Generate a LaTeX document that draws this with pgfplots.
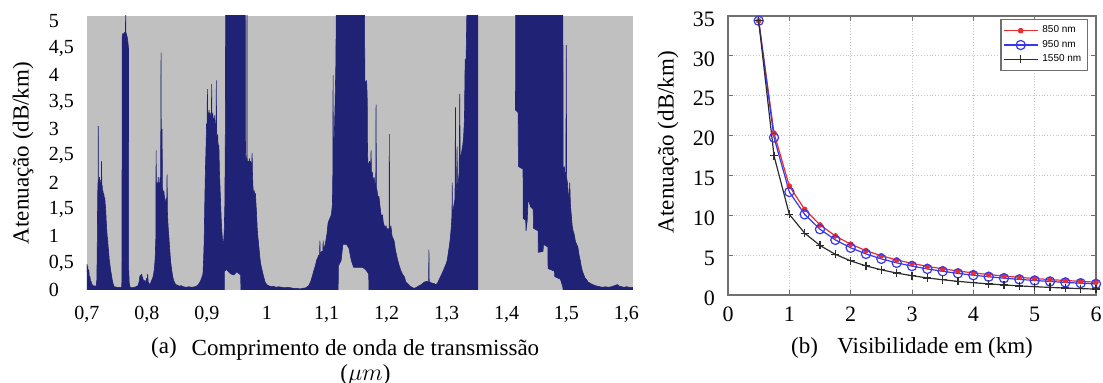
\documentclass[border=0pt]{standalone}
\usepackage{pgfplots}
\usepackage{pgfplotstable}
\pgfplotsset{compat=1.18}
\usepackage{fontspec}
\setmainfont{Liberation Serif}
\newfontfamily\legfont{Liberation Sans}
\definecolor{bg}{RGB}{192,192,192}
\definecolor{navyb}{RGB}{31,34,117}
\definecolor{frame}{RGB}{112,112,112}
\definecolor{c850}{RGB}{235,45,45}
\definecolor{c950}{RGB}{55,55,235}
\definecolor{c1550}{RGB}{45,45,45}

% attenuation spectrum, 0.70-1.35 um: upper envelope (left to right), then lower envelope (right to left)
\pgfplotstableread{
x y
0.7000 0.48
0.7006 0.30
0.7012 0.45
0.7020 0.32
0.7030 0.38
0.7040 0.22
0.7050 0.25
0.7060 0.14
0.7070 0.16
0.7080 0.09
0.7095 0.10
0.7110 0.06
0.7125 0.08
0.7140 0.05
0.7155 0.09
0.7165 0.20
0.7172 0.9
0.7177 1.6
0.7182 2.0
0.7186 1.8
0.7188 3.05
0.7191 1.9
0.7196 2.05
0.7202 1.9
0.7208 2.1
0.7214 1.95
0.7220 2.05
0.7226 1.9
0.7232 2.0
0.7238 1.85
0.7243 2.4
0.7247 1.9
0.7253 1.95
0.7260 1.8
0.7266 1.85
0.7272 1.75
0.7280 1.8
0.7288 1.7
0.7296 1.72
0.7304 1.6
0.7312 1.5
0.7320 1.3
0.7328 1.15
0.7336 1.0
0.7344 0.95
0.7353 0.8
0.7362 0.7
0.7372 0.55
0.7382 0.48
0.7392 0.38
0.7402 0.32
0.7412 0.25
0.7422 0.18
0.7432 0.13
0.7445 0.08
0.7460 0.05
0.7480 0.06
0.7500 0.04
0.7530 0.05
0.7560 0.04
0.7580 0.06
0.7584 0.5
0.7586 4.7
0.7600 4.78
0.7615 4.75
0.7630 4.8
0.7642 4.78
0.7645 5.3
0.7648 4.8
0.7660 4.75
0.7672 4.7
0.7684 4.6
0.7692 4.5
0.7695 0.4
0.7705 0.12
0.7720 0.05
0.7750 0.04
0.7790 0.05
0.7820 0.06
0.7850 0.08
0.7870 0.15
0.7880 0.24
0.7890 0.28
0.7900 0.22
0.7910 0.30
0.7920 0.25
0.7935 0.20
0.7950 0.15
0.7965 0.18
0.7980 0.12
0.7995 0.22
0.8005 0.18
0.8012 0.30
0.8020 0.15
0.8035 0.12
0.8050 0.10
0.8065 0.14
0.8080 0.18
0.8095 0.22
0.8110 0.28
0.8125 0.40
0.8138 0.60
0.8148 0.95
0.8153 2.6
0.8158 1.8
0.8165 1.9
0.8172 2.0
0.8180 1.85
0.8188 2.1
0.8196 1.9
0.8204 2.0
0.8212 1.95
0.8220 2.1
0.8228 1.9
0.8236 4.42
0.8240 2.0
0.8246 2.1
0.8253 3.0
0.8258 1.9
0.8266 1.85
0.8274 1.8
0.8282 1.85
0.8290 1.75
0.8298 1.7
0.8306 1.65
0.8314 1.6
0.8322 1.7
0.8330 1.6
0.8336 2.15
0.8342 1.45
0.8350 1.25
0.8358 1.1
0.8366 1.0
0.8374 0.85
0.8384 0.7
0.8394 0.55
0.8404 0.45
0.8416 0.35
0.8430 0.25
0.8445 0.18
0.8460 0.14
0.8480 0.10
0.8510 0.09
0.8540 0.07
0.8570 0.08
0.8610 0.06
0.8650 0.05
0.8700 0.06
0.8750 0.05
0.8800 0.06
0.8840 0.08
0.8870 0.12
0.8900 0.18
0.8920 0.25
0.8935 0.30
0.8945 0.55
0.8955 0.9
0.8965 1.6
0.8975 2.2
0.8985 2.6
0.8995 3.1
0.9003 3.0
0.9009 3.74
0.9013 3.2
0.9020 3.3
0.9028 3.1
0.9036 3.35
0.9044 3.2
0.9052 3.3
0.9060 3.1
0.9068 3.25
0.9076 3.3
0.9080 3.83
0.9084 3.2
0.9092 3.1
0.9100 3.3
0.9108 3.0
0.9116 3.2
0.9124 3.1
0.9132 3.25
0.9140 3.0
0.9148 3.1
0.9154 2.9
0.9158 3.9
0.9162 2.9
0.9170 2.8
0.9180 2.9
0.9190 2.6
0.9200 2.7
0.9210 2.2
0.9220 1.9
0.9230 1.6
0.9240 1.3
0.9250 1.1
0.9260 0.95
0.9270 0.85
0.9280 0.9
0.9290 1.1
0.9300 1.6
0.9306 2.5
0.9310 3.5
0.9313 5.3
0.9640 5.3
0.9644 2.6
0.9650 2.4
0.9658 2.45
0.9666 2.3
0.9670 5.3
0.9673 2.4
0.9680 2.35
0.9690 2.4
0.9700 2.3
0.9710 2.45
0.9720 2.3
0.9730 2.4
0.9740 2.35
0.9748 2.3
0.9755 2.55
0.9760 2.2
0.9770 1.9
0.9780 1.8
0.9790 1.85
0.9800 1.75
0.9810 1.8
0.9820 1.6
0.9830 1.4
0.9840 1.15
0.9850 1.0
0.9864 0.85
0.9880 0.65
0.9895 0.5
0.9910 0.42
0.9925 0.35
0.9947 0.25
0.9970 0.15
1.0000 0.10
1.0030 0.08
1.0070 0.06
1.0110 0.07
1.0150 0.05
1.0200 0.06
1.0250 0.05
1.0300 0.04
1.0350 0.05
1.0400 0.04
1.0450 0.03
1.0500 0.03
1.0550 0.02
1.0600 0.03
1.0650 0.04
1.0700 0.08
1.0730 0.15
1.0750 0.22
1.0770 0.30
1.0790 0.38
1.0810 0.45
1.0830 0.55
1.0850 0.60
1.0866 0.65
1.0880 0.62
1.0886 0.92
1.0892 0.65
1.0905 0.70
1.0920 0.72
1.0935 0.70
1.0940 0.92
1.0946 0.72
1.0960 0.80
1.0975 0.85
1.0990 0.95
1.1005 1.05
1.1023 1.25
1.1040 1.30
1.1060 1.35
1.1078 1.40
1.1095 1.60
1.1102 2.2
1.1106 4.0
1.1110 2.5
1.1125 2.8
1.1140 3.5
1.1152 4.2
1.1160 5.3
1.1630 5.3
1.1636 3.9
1.1650 3.85
1.1665 3.9
1.1675 3.6
1.1680 2.6
1.1686 2.4
1.1700 2.3
1.1715 2.4
1.1730 2.2
1.1740 2.6
1.1746 2.1
1.1760 2.2
1.1775 2.0
1.1790 2.1
1.1805 1.95
1.1818 2.0
1.1823 3.45
1.1828 1.9
1.1840 1.85
1.1855 1.7
1.1870 1.75
1.1885 1.6
1.1900 1.45
1.1915 1.35
1.1930 1.4
1.1945 1.25
1.1960 1.2
1.1975 1.15
1.1990 1.2
1.2005 1.1
1.2020 1.15
1.2040 1.1
1.2045 2.9
1.2050 1.05
1.2070 1.2
1.2090 1.0
1.2110 0.95
1.2127 0.9
1.2145 0.75
1.2165 0.65
1.2185 0.55
1.2210 0.45
1.2240 0.35
1.2270 0.28
1.2293 0.25
1.2320 0.15
1.2348 0.12
1.2380 0.08
1.2420 0.05
1.2459 0.03
1.2500 0.05
1.2540 0.08
1.2580 0.10
1.2620 0.14
1.2660 0.16
1.2700 0.15
1.2705 0.75
1.2710 0.15
1.2750 0.13
1.2790 0.12
1.2820 0.10
1.2844 0.12
1.2870 0.18
1.2900 0.25
1.2930 0.32
1.2960 0.40
1.2990 0.48
1.3010 0.55
1.3030 0.70
1.3050 0.85
1.3065 1.0
1.3080 1.2
1.3090 1.4
1.3093 2.0
1.3097 1.4
1.3110 1.5
1.3125 1.6
1.3140 1.7
1.3148 3.4
1.3152 1.8
1.3165 1.9
1.3175 2.67
1.3180 1.9
1.3195 2.0
1.3210 2.2
1.3220 3.65
1.3226 2.3
1.3240 2.5
1.3255 2.6
1.3270 2.7
1.3284 2.85
1.3298 3.2
1.3310 4.3
1.3320 4.0
1.3330 4.6
1.3340 5.3
1.3520 5.3
1.3523 0.0
1.1705 0
1.1700 0.30
1.1650 0.38
1.1600 0.42
1.1450 0.42
1.1410 0.55
1.1370 0.78
1.1330 0.85
1.1270 0.85
1.1240 0.55
1.1195 0.45
1.1190 0
0.9567 0
0.9565 0.28
0.9540 0.30
0.9500 0.34
0.9450 0.28
0.9400 0.30
0.9370 0.33
0.9330 0.38
0.9292 0.35
0.9290 0
0.7000 0
}\tabA

% attenuation spectrum, 1.41-1.61 um: upper envelope, then lower envelope back
\pgfplotstableread{
x y
1.4150 3.35
1.4152 5.3
1.4940 5.3
1.4945 2.3
1.4955 2.2
1.4965 2.3
1.4975 2.1
1.4990 2.2
1.4997 4.56
1.5002 2.1
1.5015 2.0
1.5030 1.8
1.5045 1.7
1.5055 2.0
1.5065 1.6
1.5080 1.4
1.5095 1.2
1.5110 1.1
1.5125 1.05
1.5135 1.0
1.5150 0.9
1.5170 0.85
1.5190 0.8
1.5210 0.65
1.5230 0.55
1.5245 0.45
1.5265 0.35
1.5290 0.28
1.5310 0.22
1.5330 0.20
1.5360 0.15
1.5400 0.12
1.5439 0.10
1.5480 0.08
1.5520 0.07
1.5560 0.06
1.5600 0.05
1.5650 0.06
1.5700 0.05
1.5750 0.06
1.5800 0.08
1.5850 0.10
1.5880 0.07
1.5920 0.06
1.5960 0.05
1.6000 0.06
1.6050 0.05
1.6110 0.05
1.6110 0
1.4945 0
1.4940 0.05
1.4900 0.2
1.4805 0.25
1.4800 0.35
1.4693 0.4
1.4690 0.8
1.4615 0.85
1.4610 0.72
1.4530 0.7
1.4528 1.1
1.4450 1.15
1.4445 1.5
1.4400 1.55
1.4360 1.7
1.4345 1.3
1.4325 1.1
1.4320 1.3
1.4278 1.33
1.4275 2.25
1.4197 2.3
1.4195 3.3
1.4150 3.35
}\tabB

\pgfplotstableread{
V a850 a950 a1550
0.50 34.4 34.4 34.4
0.75 20.31 19.75 17.47
1.00 13.66 12.92 10.11
1.25 10.74 10.11 7.76
1.50 8.79 8.25 6.21
1.75 7.41 6.91 5.10
2.00 6.37 5.92 4.28
2.25 5.57 5.15 3.65
2.50 4.92 4.53 3.16
2.75 4.40 4.03 2.75
3.00 3.96 3.62 2.42
3.25 3.59 3.27 2.14
3.50 3.28 2.97 1.91
3.75 3.01 2.71 1.71
4.00 2.77 2.48 1.54
4.25 2.56 2.29 1.39
4.50 2.38 2.11 1.26
4.75 2.21 1.96 1.14
5.00 2.07 1.82 1.04
5.25 1.93 1.70 0.95
5.50 1.82 1.58 0.87
5.75 1.71 1.48 0.80
6.00 1.61 1.39 0.74
}\tabV

\begin{document}
\begin{tikzpicture}
\begin{axis}[
  at={(43.5pt,46.5pt)}, anchor=south west,
  scale only axis, width=273pt, height=137pt,
  xmin=0.7, xmax=1.611, ymin=0, ymax=5.1,
  axis background/.style={fill=bg},
  axis line style={draw=none},
  major tick length=0pt,
  xtick={0.7,0.8,0.9,1,1.1,1.2,1.3,1.4,1.5,1.6},
  ytick={0,0.5,1,1.5,2,2.5,3,3.5,4,4.5,5},
  /pgf/number format/use comma,
  /pgf/number format/assume math mode=true,
  tick label style={font=\fontsize{10}{12}\selectfont},
  xticklabel style={yshift=-4.5pt},
  yticklabel style={text width=15.5pt, align=left},
  ylabel={Atenuação (dB/km)},
  ylabel style={at={(axis description cs:-0.117,0.5)}, anchor=center, font=\fontsize{11.5}{13}\selectfont},
  xlabel={Comprimento de onda de transmissão\\($\mu m$)},
  xlabel style={at={(axis description cs:0.51,0)}, anchor=north, yshift=-21pt, align=center, font=\fontsize{11.5}{12.5}\selectfont},
]
\addplot[draw=navyb, fill=navyb, line width=0.3pt, line join=bevel] table {\tabA};
\addplot[draw=navyb, fill=navyb, line width=0.3pt, line join=bevel] table {\tabB};
\end{axis}
\node[font=\fontsize{11.5}{13}\selectfont] at (82pt,17.5pt) {(a)};

\begin{axis}[
  at={(364pt,44pt)}, anchor=south west,
  scale only axis, width=184pt, height=139.5pt,
  xmin=0, xmax=6, ymin=0, ymax=35,
  xtick={0,1,2,3,4,5,6}, ytick={0,5,10,15,20,25,30,35},
  /pgf/number format/assume math mode=true,
  grid=major, grid style={densely dotted, gray!45, line width=0.4pt},
  axis line style={frame, line width=1pt},
  tick style={frame, line width=0.5pt}, tick align=inside, major tick length=2.5pt,
  tick label style={font=\fontsize{11}{13}\selectfont},
  xticklabel style={yshift=-2.5pt}, yticklabel style={xshift=-3pt, yshift=-1.5pt},
  ylabel={Atenuação (dB/km)},
  ylabel style={at={(axis description cs:-0.163,0.548)}, anchor=center, font=\fontsize{11.5}{13}\selectfont},
  xlabel={(b)\hspace{0.6em} Visibilidade em (km)},
  xlabel style={at={(axis description cs:0.5,0)}, anchor=center, yshift=-26.5pt, font=\fontsize{11.5}{13}\selectfont},
  legend style={at={(rel axis cs:0.978,0.989)}, anchor=north east,
    font=\legfont\fontsize{5}{5.5}\selectfont, draw=frame, line width=0.6pt,
    inner sep=1pt, row sep=-1.8pt},
  legend cell align=left,
]
\addplot[c850, line width=0.6pt, mark=*, mark size=1.1pt] table[x=V, y=a850] {\tabV};
\addlegendentry{850 nm}
\addplot[c950, line width=0.6pt, mark=o, mark size=2.3pt] table[x=V, y=a950] {\tabV};
\addlegendentry{950 nm}
\addplot[c1550, line width=0.6pt, mark=+, mark size=2pt] table[x=V, y=a1550] {\tabV};
\addlegendentry{1550 nm}
\end{axis}
\pgfresetboundingbox
\path[use as bounding box] (0,0) rectangle (551.5pt,191.5pt);
\end{tikzpicture}
\end{document}
